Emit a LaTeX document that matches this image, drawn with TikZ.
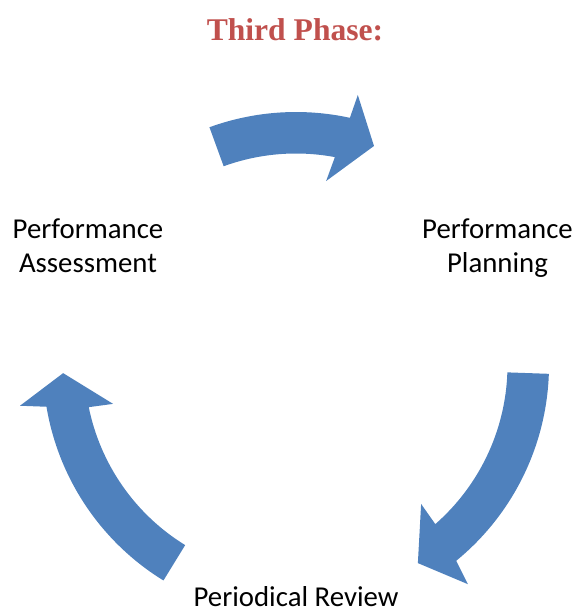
\documentclass[tikz,border=0pt]{standalone}
\usepackage{fontspec}
\setmainfont{Carlito}
\newfontfamily\titlefont{Liberation Serif}
\definecolor{arrowblue}{HTML}{4F81BD}
\definecolor{titlered}{HTML}{C0504D}

\begin{document}
\begin{tikzpicture}[x=0.5pt,y=0.5pt,
  phasetext/.style={font=\fontsize{14.4}{17}\selectfont, align=center, inner sep=0pt, anchor=base},
  cyclearrow/.style={fill=arrowblue, draw=none}]
\useasboundingbox (0,0) rectangle (577,612);

% heading
\node[font=\titlefont\bfseries\fontsize{15.8}{19}\selectfont, text=titlered,
      inner sep=0pt, anchor=base] (title) at (295,571) {Third Phase:};

% the three stages of the cycle (base = baseline of the last line)
\node[phasetext] (planning)   at (497.5,339) {Performance\\Planning};
\node[phasetext] (review)     at (296,5)     {Periodical Review};
\node[phasetext] (assessment) at (88,339)    {Performance\\Assessment};

% curved block arrows around the common centre
\begin{scope}[shift={(296,247)}]
  % top: assessment -> planning
  \fill[cyclearrow] (110:253) arc[start angle=110, end angle=77.7, radius=253]
    -- (77.1:277) -- (70.4:232.5) -- (80.7:186.4) -- (79.4:211.5)
    arc[start angle=79.4, end angle=110, radius=211.5] -- cycle;
  % right: planning -> review
  \fill[cyclearrow] (-2:253) arc[start angle=-2, end angle=-50.7, radius=253]
    -- (-51.9:278.5) -- (-58.4:232.6) -- (-48.0:187) -- (-48.8:211.5)
    arc[start angle=-48.8, end angle=-2, radius=211.5] -- cycle;
  % left: review -> assessment
  \fill[cyclearrow] (238.4:253) arc[start angle=238.4, end angle=189.5, radius=253]
    -- (188.4:279) -- (182:233) -- (192:187) -- (191.5:211.5)
    arc[start angle=191.5, end angle=238.4, radius=211.5] -- cycle;
\end{scope}
\end{tikzpicture}
\end{document}
